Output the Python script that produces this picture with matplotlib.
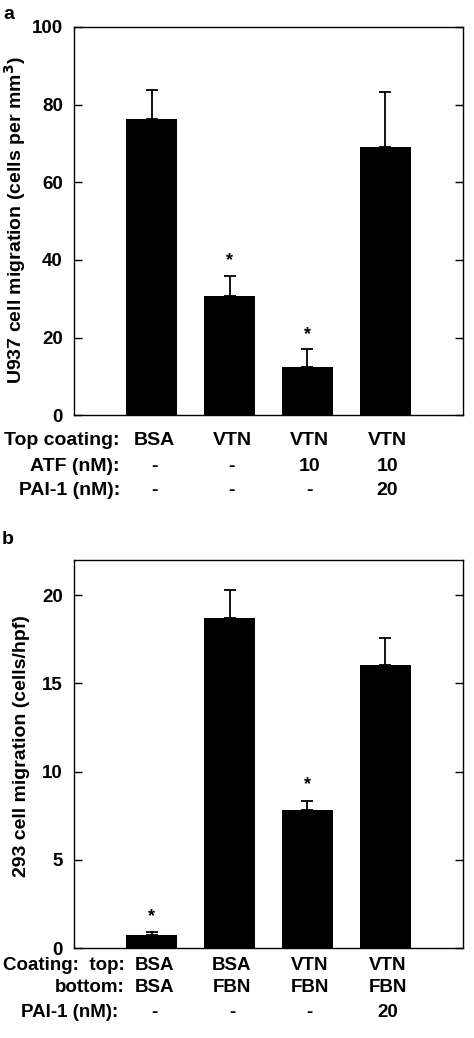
import numpy as np
import matplotlib
matplotlib.use("Agg")
import matplotlib.pyplot as plt

plt.rcParams['font.family'] = ['Liberation Sans', 'DejaVu Sans']
plt.rcParams['font.weight'] = 'bold'

# panel a data
a_pos = [1, 2, 3, 4]
a_vals = [76.3, 30.7, 12.4, 69.0]
a_err = [7.5, 5.2, 4.6, 14.2]
a_star = [False, True, True, False]
a_rows = ["Top coating:", "ATF (nM):", "PAI-1 (nM):"]
a_cells = [["BSA", "VTN", "VTN", "VTN"],
           ["-", "-", "10", "10"],
           ["-", "-", "-", "20"]]

# panel b data
b_pos = [1, 2, 3, 4]
b_vals = [0.74, 18.7, 7.8, 16.05]
b_err = [0.15, 1.6, 0.55, 1.5]
b_star = [True, False, True, False]
b_rows = ["Coating:  top:", "bottom:", "PAI-1 (nM):"]
b_cells = [["BSA", "BSA", "VTN", "VTN"],
           ["BSA", "FBN", "FBN", "FBN"],
           ["-", "-", "-", "20"]]

fig = plt.figure(figsize=(4.74, 10.38), dpi=100)
axa = fig.add_axes([0.156, 0.600, 0.821, 0.374])
axb = fig.add_axes([0.156, 0.0867, 0.821, 0.374])


def draw(ax, pos, vals, err, star, ymax, ticks, ylabel, rows, cells, row_y, lab_x,
         star_gap, rowsize):
    ax.bar(pos, vals, width=0.66, color='black')
    ax.errorbar(pos, vals, yerr=[np.zeros(len(err)), err], fmt='none',
                ecolor='black', elinewidth=1.3, capsize=4.5, capthick=1.3)
    for p, v, e, s in zip(pos, vals, err, star):
        if s:
            ax.text(p, v + e + star_gap, "*", ha='center', va='center', fontsize=13)
    ax.set_xlim(0, 5)
    ax.set_ylim(0, ymax)
    ax.set_yticks(ticks)
    ax.set_xticks([])
    ax.tick_params(axis='y', direction='in', length=6, width=1, left=True, right=True,
                   labelsize=13.5, pad=8)
    for lbl in ax.get_yticklabels():
        lbl.set_fontweight('bold')
    for sp in ax.spines.values():
        sp.set_linewidth(1.0)
    ax.set_ylabel(ylabel, fontsize=14, fontweight='bold')
    for r, (name, vals_r) in enumerate(zip(rows, cells)):
        ax.text(lab_x[r], row_y[r], name, transform=ax.transAxes, ha='right', va='center',
                fontsize=rowsize, fontweight='bold')
        for p, c in zip(pos, vals_r):
            ax.text(p + 0.03, row_y[r], c, transform=ax.get_xaxis_transform(),
                    ha='center', va='center', fontsize=rowsize, fontweight='bold')


draw(axa, a_pos, a_vals, a_err, a_star, 100, [0, 20, 40, 60, 80, 100],
     "U937 cell migration (cells per mm$\\mathbf{^3}$)", a_rows, a_cells,
     [-0.064, -0.131, -0.193], [0.118, 0.118, 0.118], 3.8, 14)
axa.yaxis.set_label_coords(-0.118, 0.503)

draw(axb, b_pos, b_vals, b_err, b_star, 22, [0, 5, 10, 15, 20],
     "293 cell migration (cells/hpf)", b_rows, b_cells,
     [-0.044, -0.103, -0.165], [0.131, 0.131, 0.113], 0.9, 13.5)
axb.yaxis.set_label_coords(-0.112, 0.52)

fig.text(0.008, 0.994, "a", ha='left', va='top', fontsize=14, fontweight='bold')
fig.text(0.004, 0.488, "b", ha='left', va='top', fontsize=14, fontweight='bold')

fig.savefig("out.png", dpi=100)
